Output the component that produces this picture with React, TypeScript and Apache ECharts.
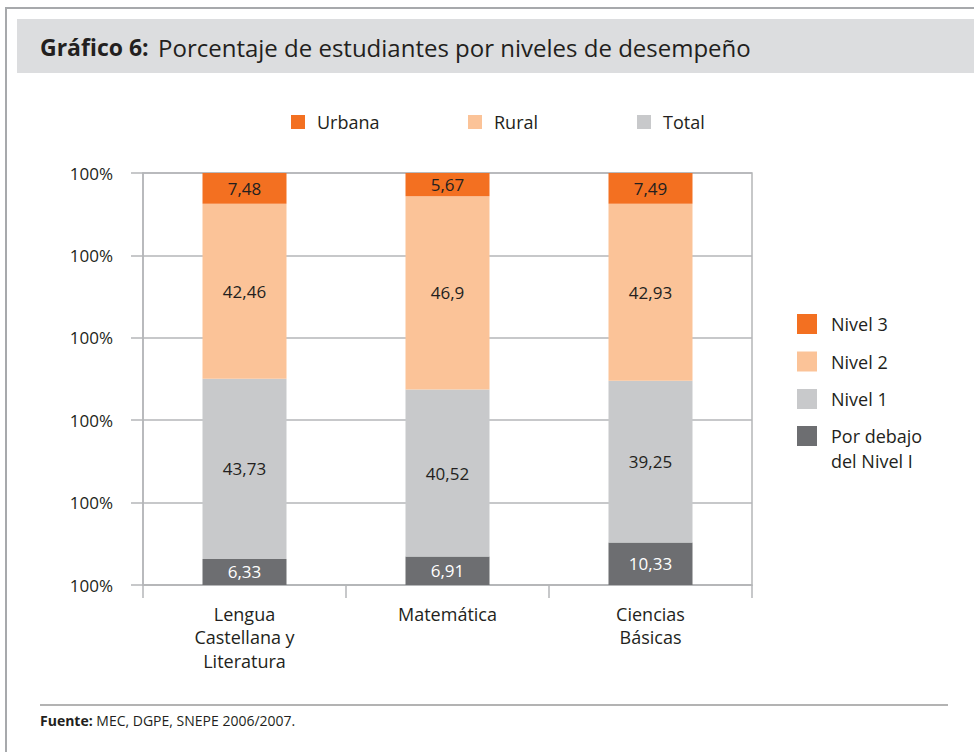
import React, { useEffect, useRef } from "react";
import * as echarts from "echarts";

const categories = ["Lengua\nCastellana y\nLiteratura", "Matemática", "Ciencias\nBásicas"];
const porDebajo = [6.33, 6.91, 10.33];
const nivel1 = [43.73, 40.52, 39.25];
const nivel2 = [42.46, 46.9, 42.93];
const nivel3 = [7.48, 5.67, 7.49];
const yTickLabels = ["100%", "100%", "100%", "100%", "100%", "100%"];
const topLegendNames = ["Urbana", "Rural", "Total"];
const levelNames = ["Nivel 3", "Nivel 2", "Nivel 1"];
const lowestName = "Por debajo del Nivel I";

const C3 = "#f37021";
const C2 = "#fbc398";
const C1 = "#c8c9cb";
const C0 = "#6d6e71";
const TXT = "#231f20";
const GRID = "#b5b6b8";
const FONT = "Open Sans";

export default function App() {
  const ref = useRef<HTMLDivElement>(null);
  useEffect(() => {
    document.body.style.margin = "0";
    const chart = echarts.init(ref.current!, null, { renderer: "svg" });
    const fmt = (p: any) => String(p.value).replace(".", ",");
    const barLabel = (color: string) => ({
      show: true,
      position: "inside",
      color,
      fontSize: 17,
      fontFamily: FONT,
      formatter: fmt,
    });
    const topLegendLeft = [291, 468, 637];
    const topColors = [C3, C2, C1];
    chart.setOption({
      animation: false,
      backgroundColor: "#ffffff",
      textStyle: { fontFamily: FONT, color: TXT },
      graphic: [
        { type: "line", shape: { x1: 5, y1: 8, x2: 974, y2: 8 }, style: { stroke: "#a7a9ac", lineWidth: 2 } },
        { type: "line", shape: { x1: 6, y1: 8, x2: 6, y2: 752 }, style: { stroke: "#a7a9ac", lineWidth: 2 } },
        { type: "rect", z: 0, shape: { x: 17, y: 19, width: 957, height: 54 }, style: { fill: "#dcdddf" } },
        { type: "line", shape: { x1: 40, y1: 705, x2: 948, y2: 705 }, style: { stroke: "#b3b3b3", lineWidth: 2 } },
      ],
      title: [
        {
          left: 40,
          top: 32,
          padding: 0,
          z: 10,
          text: "{b|Gráfico 6:}  {r|Porcentaje de estudiantes por niveles de desempeño}",
          textStyle: {
            rich: {
              b: { fontFamily: FONT, fontWeight: "bold", fontSize: 23, color: TXT, lineHeight: 30 },
              r: { fontFamily: FONT, fontWeight: "normal", fontSize: 24, color: TXT, lineHeight: 30 },
            },
          },
        },
        {
          left: 40,
          top: 712,
          padding: 0,
          text: "{b|Fuente:}{r| MEC, DGPE, SNEPE 2006/2007.}",
          textStyle: {
            rich: {
              b: { fontFamily: FONT, fontWeight: "bold", fontSize: 14, color: TXT, lineHeight: 16 },
              r: { fontFamily: FONT, fontWeight: "normal", fontSize: 14, color: TXT, lineHeight: 16 },
            },
          },
        },
      ],
      legend: [
        ...topLegendNames.map((n, i) => ({
          data: [n],
          left: topLegendLeft[i],
          top: 113,
          padding: 0,
          icon: "rect",
          itemWidth: 14,
          itemHeight: 14,
          selectedMode: false,
          textStyle: { fontFamily: FONT, fontSize: 18, color: TXT, lineHeight: 14, padding: [0, 0, 0, 7] },
        })),
        {
          data: levelNames,
          orient: "vertical",
          left: 797,
          top: 314,
          padding: 0,
          icon: "rect",
          itemWidth: 20,
          itemHeight: 20,
          itemGap: 17.5,
          selectedMode: false,
          textStyle: { fontFamily: FONT, fontSize: 18, color: TXT, lineHeight: 20, padding: [0, 0, 0, 9] },
        },
        {
          data: [lowestName],
          left: 797,
          top: 398.5,
          padding: 0,
          icon: "rect",
          itemWidth: 20,
          itemHeight: 20,
          selectedMode: false,
          formatter: () => "\u00a0\nPor debajo\ndel Nivel I",
          textStyle: { fontFamily: FONT, fontSize: 18, color: TXT, lineHeight: 25, padding: [0, 0, 0, 9] },
        },
      ],
      grid: {
        left: 143,
        right: 222,
        top: 173,
        bottom: 167,
        show: true,
        borderColor: GRID,
        borderWidth: 1.5,
        backgroundColor: "transparent",
        outerBoundsMode: "none",
      },
      xAxis: {
        type: "category",
        data: categories,
        axisLine: { show: true, lineStyle: { color: GRID, width: 1.5 } },
        axisTick: { show: true, interval: 0, length: 13, lineStyle: { color: GRID, width: 1.5 } },
        axisLabel: { interval: 0, margin: 17, fontSize: 18, lineHeight: 23.5, color: TXT, fontFamily: FONT },
      },
      yAxis: {
        type: "value",
        min: 0,
        max: 100,
        interval: 20,
        axisLine: { show: true, lineStyle: { color: GRID, width: 1.5 } },
        axisTick: { show: true, length: 12, lineStyle: { color: GRID, width: 1.5 } },
        splitLine: { show: true, lineStyle: { color: GRID, width: 1.5 } },
        axisLabel: {
          margin: 30,
          fontSize: 17,
          color: TXT,
          fontFamily: FONT,
          formatter: (_v: number, i: number) => yTickLabels[i],
        },
      },
      series: [
        { name: lowestName, type: "bar", stack: "t", barWidth: 84, data: porDebajo, itemStyle: { color: C0 }, label: barLabel("#ffffff") },
        { name: "Nivel 1", type: "bar", stack: "t", barWidth: 84, data: nivel1, itemStyle: { color: C1 }, label: barLabel(TXT) },
        { name: "Nivel 2", type: "bar", stack: "t", barWidth: 84, data: nivel2, itemStyle: { color: C2 }, label: barLabel(TXT) },
        { name: "Nivel 3", type: "bar", stack: "t", barWidth: 84, data: nivel3, itemStyle: { color: C3 }, label: barLabel(TXT) },
        ...topLegendNames.map((n, i) => ({
          name: n,
          type: "bar",
          stack: "t",
          barWidth: 84,
          data: [],
          itemStyle: { color: topColors[i] },
        })),
      ],
    });
    return () => chart.dispose();
  }, []);
  return <div ref={ref} style={{ width: 974, height: 752 }} />;
}
